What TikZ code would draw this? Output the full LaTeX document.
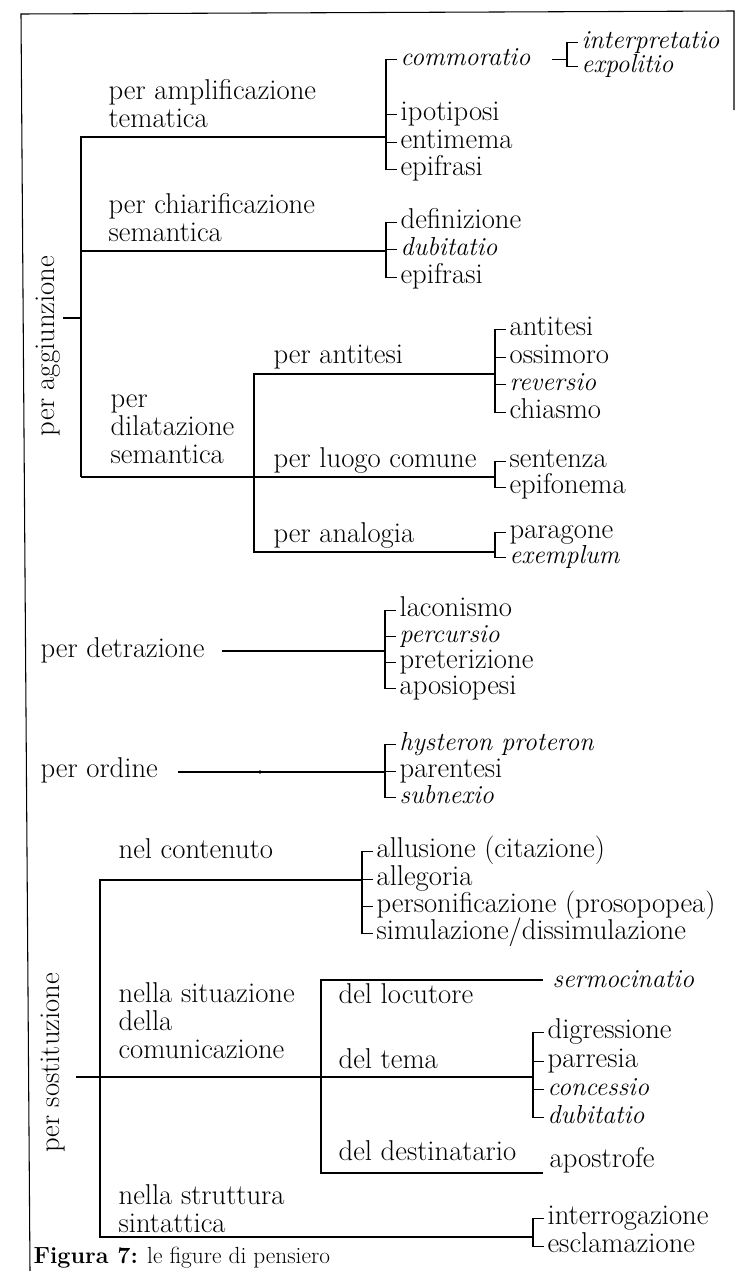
\documentclass[tikz,border=0pt]{standalone}
\usepackage{fontspec}
\usetikzlibrary{calc}
\newcommand{\tf}{\fontsize{21.5}{21}\selectfont\addfontfeatures{FakeBold=0.3}}
\newcommand{\tfi}{\fontsize{19.5}{21}\selectfont\addfontfeatures{FakeBold=0.3}\itshape}
\newcommand{\ml}[1]{\begin{tabular}[t]{@{}l@{}}#1\end{tabular}}
\tikzset{
  lbl/.style={font=\tf, inner sep=0pt, anchor=base west},
  itm/.style={font=\tf, inner xsep=2.25pt, inner ysep=0pt, text height=12.4pt, text depth=4pt, anchor=base west},
  itl/.style={itm, font=\tfi},
}
\begin{document}
\begin{tikzpicture}[x=0.75pt,y=-0.75pt,line width=0.9pt]
\useasboundingbox (0,0) rectangle (737,1271);
% frame
\draw[line width=0.8pt] (30,1271) -- (21,14) -- (734,11) -- (734,110);

% ---------- per aggiunzione ----------
\node[lbl, rotate=90, anchor=center] (agg) at (48,346) {per aggiunzione};
\node[lbl] (amp) at (108,99) {\ml{per amplificazione\\tematica}};
\node[lbl] (chi) at (108,213) {\ml{per chiarificazione\\semantica}};
\node[lbl] (dil) at (110,407) {\ml{per\\dilatazione\\semantica}};
\coordinate (aggT) at (63,318);
\coordinate (aggV) at (81,318);
\coordinate (ampL) at (81,137);  \coordinate (ampR) at (386,137);
\coordinate (chiL) at (81,251);  \coordinate (chiR) at (386,251);
\coordinate (dilL) at (81,477);
\draw (aggT) -- (aggV);
\draw (ampR) -- (ampL) -- (dilL);
\draw (chiL) -- (chiR);

% amplificazione list
\node[itl] (commo) at (397,65) {commoratio};
\node[itm] (ipo) at (397,120) {ipotiposi};
\node[itm] (enti) at (397,148) {entimema};
\node[itm] (epi1) at (397,175) {epifrasi};
\draw (commo.west) -- ++(-11,0) |- (epi1.west);
\draw (ipo.west) -- ++(-11,0);
\draw (enti.west) -- ++(-11,0);
\node[itl] (interp) at (578,48) {interpretatio};
\node[itl] (expol) at (578,72) {expolitio};
\draw (interp.west) -- ++(-11,0) |- (expol.west);
\coordinate (comA) at ($(commo.west)+(155,0)$);
\coordinate (comB) at ($(commo.west)+(170,0)$);
\draw (comA) -- (comB);

% chiarificazione list
\node[itm] (defi) at (397,228) {definizione};
\node[itl] (dub1) at (397,255) {dubitatio};
\node[itm] (epi2) at (397,283) {epifrasi};
\draw (defi.west) -- ++(-11,0) |- (epi2.west);
\draw (dub1.west) -- ++(-11,0);

% dilatazione
\coordinate (dilV1) at (254,374); \coordinate (dilV2) at (254,552);
\node[lbl] (ant) at (273,363) {per antitesi};
\node[lbl] (luo) at (273,467) {per luogo comune};
\node[lbl] (ana) at (273,542) {per analogia};
\coordinate (antR) at (495,374);
\coordinate (luoR) at (495,477);
\coordinate (anaR) at (495,552);
\draw (antR) -- (dilV1) -- (dilV2) -- (anaR);
\draw (dilL) -- (luoR);

\node[itm] (anti) at (506,335) {antitesi};
\node[itm] (ossi) at (506,363) {ossimoro};
\node[itl] (reve) at (506,390) {reversio};
\node[itm] (chia) at (506,418) {chiasmo};
\draw (anti.west) -- ++(-11,0) |- (chia.west);
\draw (ossi.west) -- ++(-11,0);
\draw (reve.west) -- ++(-11,0);

\node[itm] (sent) at (506,467) {sentenza};
\node[itm] (epif) at (506,493) {epifonema};
\draw (sent.west) -- ++(-11,0) |- (epif.west);

\node[itm] (para) at (506,538) {paragone};
\node[itl] (exem) at (506,563) {exemplum};
\draw (para.west) -- ++(-11,0) |- (exem.west);

% ---------- per detrazione ----------
\node[lbl] (det) at (40,657) {per detrazione};
\coordinate (detA) at (222,651); \coordinate (detB) at (385,651);
\draw (detA) -- (detB);
\node[itm] (laco) at (396,616) {laconismo};
\node[itl] (perc) at (396,642) {percursio};
\node[itm] (pret) at (396,668) {preterizione};
\node[itm] (apos) at (396,694) {aposiopesi};
\draw (laco.west) -- ++(-11,0) |- (apos.west);
\draw (perc.west) -- ++(-11,0);
\draw (pret.west) -- ++(-11,0);

% ---------- per ordine ----------
\node[lbl] (ord) at (40,777) {per ordine};
\coordinate (ordA) at (178,772); \coordinate (ordB) at (385,772);
\draw (ordA) -- (ordB);
\fill (260,772) circle[radius=1.4pt];
\node[itl] (hyst) at (396,750) {hysteron proteron};
\node[itm] (pare) at (396,777) {parentesi};
\node[itl] (subn) at (396,803) {subnexio};
\draw (hyst.west) -- ++(-11,0) |- (subn.west);
\draw (pare.west) -- ++(-11,0);

% ---------- per sostituzione ----------
\node[lbl, rotate=90, anchor=center] (sos) at (53,1063) {per sostituzione};
\node[lbl] (con) at (118,858) {nel contenuto};
\coordinate (conL) at (100,880); \coordinate (conR) at (362,880);
\coordinate (strL) at (100,1237); \coordinate (strR) at (533,1237);
\draw (conR) -- (conL) -- (strL) -- (strR);
\node[itm] (allu) at (373,857) {allusione (citazione)};
\node[itm] (alle) at (373,885) {allegoria};
\node[itm] (pers) at (373,912) {personificazione (prosopopea)};
\node[itm] (simu) at (373,939) {simulazione/dissimulazione};
\draw (allu.west) -- ++(-11,0) |- (simu.west);
\draw (alle.west) -- ++(-11,0);
\draw (pers.west) -- ++(-11,0);

\node[lbl] (sit) at (118,1002) {\ml{nella situazione\\della\\comunicazione}};
\coordinate (sosT) at (76,1077); \coordinate (temR) at (533,1077);
\draw (sosT) -- (temR);
\coordinate (delV1) at (321,980); \coordinate (delV2) at (321,1173);
\coordinate (locR) at (543,980); \coordinate (desR) at (543,1173);
\draw (locR) -- (delV1) -- (delV2) -- (desR);
\node[lbl] (loc) at (338,1003) {del locutore};
\node[lbl] (tem) at (338,1068) {del tema};
\node[lbl] (des) at (338,1160) {del destinatario};
\node[lbl, font=\tfi] (serm) at (552,987) {sermocinatio};
\node[lbl] (apo) at (549,1167) {apostrofe};

\node[itm] (digr) at (544,1038) {digressione};
\node[itm] (parr) at (544,1067) {parresia};
\node[itl] (conc) at (544,1095) {concessio};
\node[itl] (dub2) at (544,1123) {dubitatio};
\draw (digr.west) -- ++(-11,0) |- (dub2.west);
\draw (parr.west) -- ++(-11,0);
\draw (conc.west) -- ++(-11,0);

\node[lbl] (str) at (118,1204) {\ml{nella struttura\\sintattica}};
\node[itm] (inte) at (544,1224) {interrogazione};
\node[itm] (escl) at (544,1252) {esclamazione};
\draw (inte.west) -- ++(-11,0) |- (escl.west);

% caption
\node[lbl, font=\fontsize{17.5}{20}\selectfont] (cap) at (33,1263) {\textbf{Figura 7:} le figure di pensiero};
\end{tikzpicture}
\end{document}
